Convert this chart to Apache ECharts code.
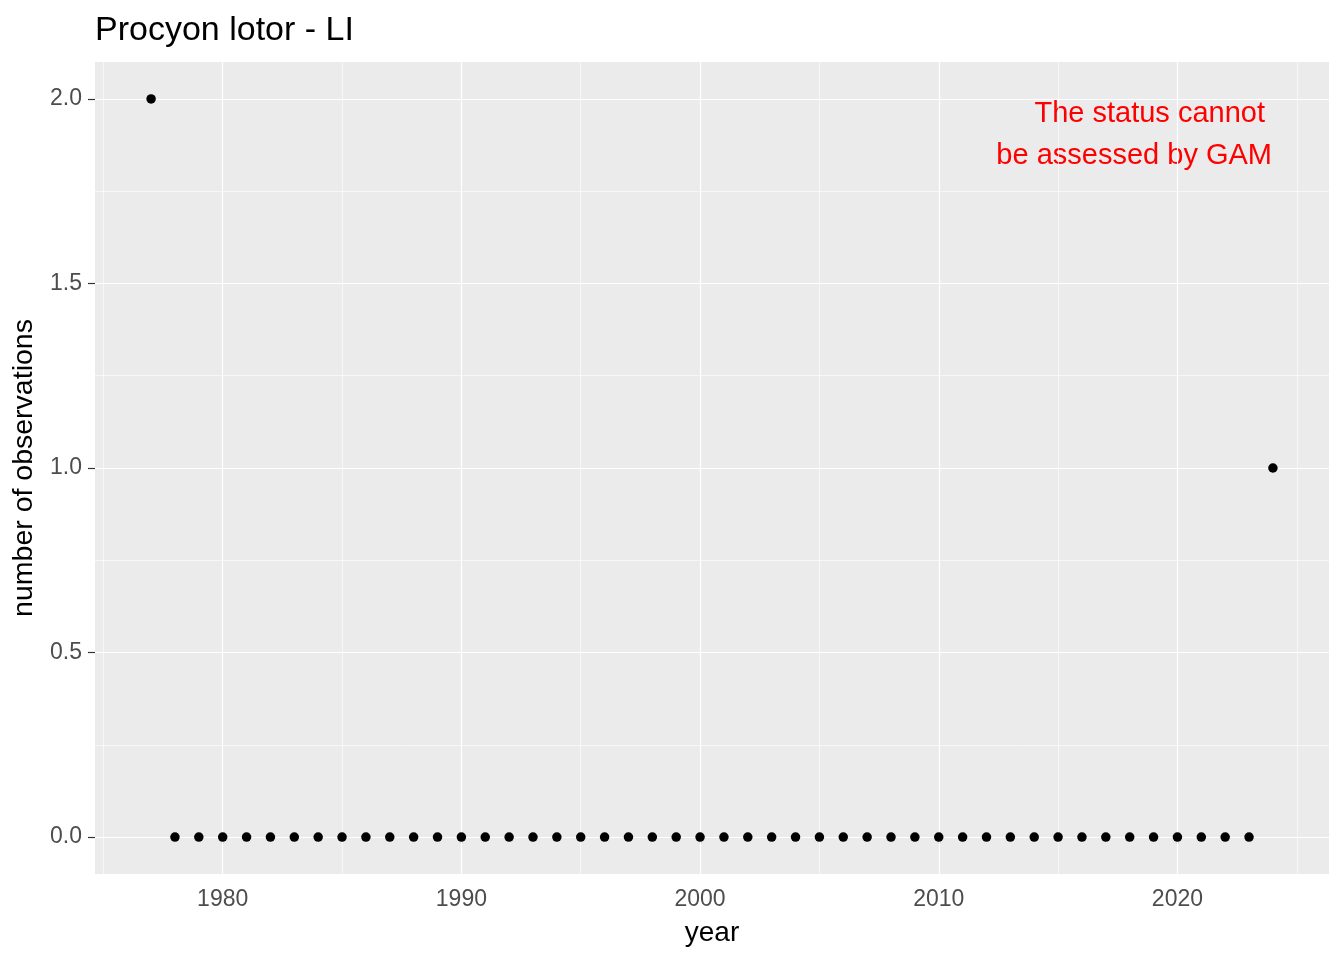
<!DOCTYPE html>
<html>
<head>
<meta charset="utf-8">
<script src="https://cdn.jsdelivr.net/npm/echarts@6/dist/echarts.min.js"></script>
<style>html,body{margin:0;padding:0;background:#fff}#c{width:1344px;height:960px}</style>
</head>
<body>
<div id="c"></div>
<script>
const years = [];
for (let y = 1977; y <= 2024; y++) years.push(y);
const counts = [2,0,0,0,0,0,0,0,0,0,0,0,0,0,0,0,0,0,0,0,0,0,0,0,0,0,0,0,0,0,0,0,0,0,0,0,0,0,0,0,0,0,0,0,0,0,0,1];
const xMajorTicks = [1980, 1990, 2000, 2010, 2020];
const xMinorTicks = [1975, 1985, 1995, 2005, 2015, 2025];
const yMajorTicks = [0, 0.5, 1, 1.5, 2];
const yMinorTicks = [0.25, 0.75, 1.25, 1.75];
const titleText = 'Procyon lotor - LI';
const noteLines = ['The status cannot', 'be assessed by GAM'];

const font = '"Liberation Sans", Arial, sans-serif';
const xMin = 1977 - 0.05 * 47, xMax = 2024 + 0.05 * 47;
const yMin = -0.1, yMax = 2.1;

const gridLines = [];
xMinorTicks.forEach(v => gridLines.push({xAxis: v, lineStyle: {width: 0.6}}));
yMinorTicks.forEach(v => gridLines.push({yAxis: v, lineStyle: {width: 0.6}}));
xMajorTicks.forEach(v => gridLines.push({xAxis: v, lineStyle: {width: 1.2}}));
yMajorTicks.forEach(v => gridLines.push({yAxis: v, lineStyle: {width: 1.2}}));

const chart = echarts.init(document.getElementById('c'), null, {renderer: 'canvas'});
chart.setOption({
  animation: false,
  backgroundColor: '#ffffff',
  grid: {left: 95, right: 15, top: 62, bottom: 86, show: true, backgroundColor: '#EBEBEB', borderWidth: 0},
  xAxis: {
    type: 'value', min: xMin, max: xMax,
    name: 'year', nameLocation: 'middle', nameGap: 45,
    nameTextStyle: {fontFamily: font, fontSize: 28, color: '#000'},
    axisLine: {show: false},
    axisTick: {show: true, length: 7, customValues: xMajorTicks, lineStyle: {color: '#333', width: 1.2}},
    axisLabel: {customValues: xMajorTicks, fontFamily: font, fontSize: 23, color: '#4D4D4D', margin: 14,
      formatter: v => String(v)},
    splitLine: {show: false}
  },
  yAxis: {
    type: 'value', min: yMin, max: yMax,
    name: 'number of observations', nameLocation: 'middle', nameGap: 54,
    nameTextStyle: {fontFamily: font, fontSize: 28.5, color: '#000'},
    axisLine: {show: false},
    axisTick: {show: true, length: 7, customValues: yMajorTicks, lineStyle: {color: '#333', width: 1.2}},
    axisLabel: {customValues: yMajorTicks, fontFamily: font, fontSize: 23, color: '#4D4D4D', margin: 13,
      formatter: v => v.toFixed(1)},
    splitLine: {show: false}
  },
  graphic: [{
    type: 'text', x: 95, y: 31,
    style: {text: titleText, fontFamily: font, fontSize: 34, fill: '#000', verticalAlign: 'middle', align: 'left'}
  }, {
    type: 'text', x: 1265, y: 114,
    style: {text: noteLines[0], fontFamily: font, fontSize: 29, fill: '#FF0000', verticalAlign: 'middle', align: 'right'}
  }, {
    type: 'text', x: 1272, y: 156,
    style: {text: noteLines[1], fontFamily: font, fontSize: 29, fill: '#FF0000', verticalAlign: 'middle', align: 'right'}
  }],
  series: [{
    type: 'scatter',
    data: years.map((y, i) => [y, counts[i]]),
    symbol: 'circle', symbolSize: 9.5,
    itemStyle: {color: '#000', opacity: 1},
    z: 5,
    markLine: {
      silent: true, symbol: 'none', animation: false,
      label: {show: false},
      lineStyle: {color: '#ffffff', type: 'solid'},
      emphasis: {disabled: true},
      data: gridLines
    }
  }]
});
</script>
</body>
</html>
